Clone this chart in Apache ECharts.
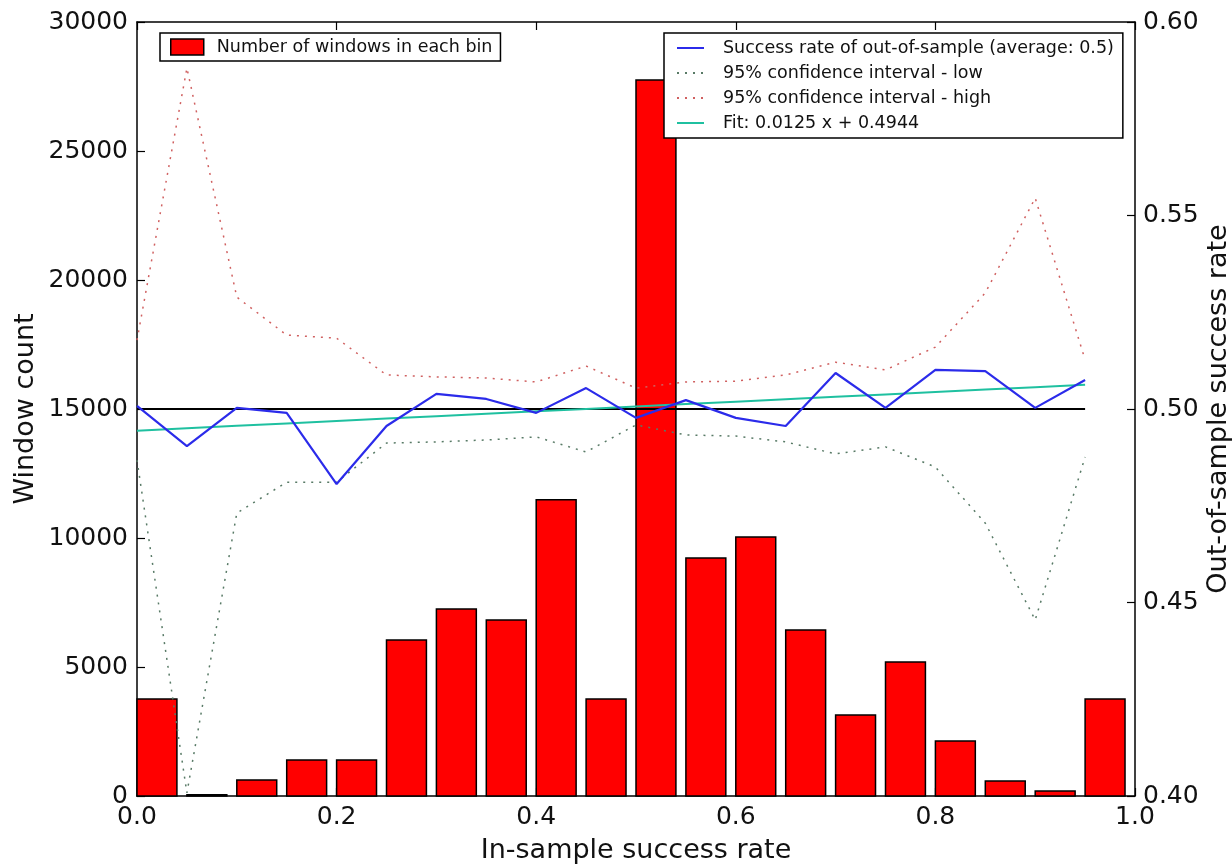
<!DOCTYPE html>
<html>
<head>
<meta charset="utf-8">
<script src="https://cdn.jsdelivr.net/npm/echarts@6/dist/echarts.min.js"></script>
<style>
  html, body { margin: 0; padding: 0; background: #ffffff; overflow: hidden; }
  #chart { width: 1232px; height: 864px; }
</style>
</head>
<body>
<div id="chart"></div>
<script>
// Bin start of each in-sample success-rate bin
const binStarts = [0.00, 0.05, 0.10, 0.15, 0.20, 0.25, 0.30, 0.35, 0.40, 0.45,
                   0.50, 0.55, 0.60, 0.65, 0.70, 0.75, 0.80, 0.85, 0.90, 0.95];
// Number of windows falling in each bin
const windowCounts = [3760, 50, 620, 1400, 1400, 6050, 7250, 6820, 11480, 3760,
                      27750, 9220, 10040, 6430, 3140, 5190, 2130, 580, 190, 3760];
// Out-of-sample success rate per bin
const outSampleRate = [0.5008, 0.4904, 0.5003, 0.4990, 0.4806, 0.4956, 0.5039, 0.5026, 0.4990, 0.5054,
                       0.4977, 0.5023, 0.4977, 0.4956, 0.5093, 0.5003, 0.5101, 0.5098, 0.5003, 0.5075];
// 95% confidence interval bounds
const ciLow = [0.4868, 0.4008, 0.4731, 0.4811, 0.4811, 0.4912, 0.4915, 0.4920, 0.4928, 0.4889,
               0.4959, 0.4933, 0.4930, 0.4915, 0.4884, 0.4902, 0.4850, 0.4705, 0.4455, 0.4876];
const ciHigh = [0.5178, 0.5881, 0.5289, 0.5191, 0.5183, 0.5088, 0.5083, 0.5080, 0.5070, 0.5111,
                0.5054, 0.5070, 0.5072, 0.5088, 0.5121, 0.5101, 0.5160, 0.5300, 0.5545, 0.5127];
// Overall average and linear fit
const averageRate = 0.5;
const fitSlope = 0.0125;
const fitIntercept = 0.4944;
// Axis tick values
const xTicks = [0.0, 0.2, 0.4, 0.6, 0.8, 1.0];
const countTicks = [0, 5000, 10000, 15000, 20000, 25000, 30000];
const rateTicks = [0.40, 0.45, 0.50, 0.55, 0.60];

const NAMES = {
  bars: 'Number of windows in each bin',
  rate: 'Success rate of out-of-sample (average: 0.5)',
  low: '95% confidence interval - low',
  high: '95% confidence interval - high',
  fit: 'Fit: 0.0125 x + 0.4944'
};

const BAR_WIDTH = 0.04;
const FONT = 'DejaVu Sans';
const TXT = '#111111';

const barData = binStarts.map((x, i) => [x, windowCounts[i]]);
const rateData = binStarts.map((x, i) => [x, outSampleRate[i]]);
const lowData = binStarts.map((x, i) => [x, ciLow[i]]);
const highData = binStarts.map((x, i) => [x, ciHigh[i]]);
const fitData = binStarts.map(x => [x, fitSlope * x + fitIntercept]);
const avgData = [[binStarts[0], averageRate], [binStarts[binStarts.length - 1], averageRate]];

const tickLen = 8;
const frameLine = { show: true, onZero: false, lineStyle: { color: '#000', width: 1.5 } };
const innerTick = { show: true, inside: true, length: tickLen, lineStyle: { color: '#000', width: 1.2 } };

const chart = echarts.init(document.getElementById('chart'), null, { renderer: 'canvas' });

chart.setOption({
  backgroundColor: '#ffffff',
  animation: false,
  textStyle: { fontFamily: FONT },
  grid: { left: 137, right: 97, top: 22, bottom: 68, containLabel: false, outerBoundsMode: 'none' },
  legend: [
    {
      data: [{
        name: NAMES.bars,
        icon: 'rect',
        itemStyle: { color: '#ff0000', borderColor: '#000', borderWidth: 1.5 }
      }],
      left: 160, top: 33,
      itemWidth: 33, itemHeight: 16,
      padding: [5, 8, 5, 10],
      backgroundColor: '#ffffff',
      borderColor: '#000', borderWidth: 1.5, borderRadius: 0,
      selectedMode: false,
      textStyle: { fontFamily: FONT, fontSize: 17.5, color: TXT, padding: [0, 0, 0, 8] }
    },
    {
      data: [NAMES.rate, NAMES.low, NAMES.high, NAMES.fit],
      orient: 'vertical',
      left: 664, top: 33,
      itemWidth: 27, itemHeight: 14, itemGap: 7,
      padding: [6, 9, 6, 12],
      backgroundColor: '#ffffff',
      borderColor: '#000', borderWidth: 1.5, borderRadius: 0,
      selectedMode: false,
      itemStyle: { opacity: 0 },
      textStyle: { fontFamily: FONT, fontSize: 17.5, color: TXT, padding: [0, 0, 0, 14] }
    }
  ],
  xAxis: [
    {
      type: 'value', min: 0, max: 1, interval: 0.2, position: 'bottom',
      name: 'In-sample success rate', nameLocation: 'middle', nameGap: 41,
      nameMoveOverlap: false,
      nameTextStyle: { fontFamily: FONT, fontSize: 27, color: TXT },
      axisLine: frameLine, axisTick: innerTick,
      axisLabel: {
        show: true, margin: 9, color: TXT, fontFamily: FONT, fontSize: 25,
        formatter: v => xTicks.some(t => Math.abs(t - v) < 1e-9) ? v.toFixed(1) : ''
      },
      splitLine: { show: false }
    },
    {
      type: 'value', min: 0, max: 1, interval: 0.2, position: 'top',
      axisLine: frameLine, axisTick: innerTick,
      axisLabel: { show: false }, splitLine: { show: false }
    }
  ],
  yAxis: [
    {
      type: 'value', min: 0, max: 30000, interval: 5000, position: 'left',
      name: 'Window count', nameLocation: 'middle', nameRotate: 90, nameGap: 98,
      nameMoveOverlap: false,
      nameTextStyle: { fontFamily: FONT, fontSize: 27, color: TXT },
      axisLine: frameLine, axisTick: innerTick,
      axisLabel: {
        margin: 9, color: TXT, fontFamily: FONT, fontSize: 25,
        formatter: v => countTicks.includes(v) ? String(v) : ''
      },
      splitLine: { show: false }
    },
    {
      type: 'value', min: 0.4, max: 0.6, interval: 0.05, position: 'right',
      name: 'Out-of-sample success rate', nameLocation: 'middle', nameRotate: 90, nameGap: 70,
      nameMoveOverlap: false,
      nameTextStyle: { fontFamily: FONT, fontSize: 27, color: TXT },
      axisLine: frameLine, axisTick: innerTick,
      axisLabel: {
        margin: 8, color: TXT, fontFamily: FONT, fontSize: 25,
        formatter: v => rateTicks.some(t => Math.abs(t - v) < 1e-9) ? v.toFixed(2) : ''
      },
      splitLine: { show: false }
    }
  ],
  series: [
    {
      name: NAMES.bars,
      type: 'custom',
      xAxisIndex: 0, yAxisIndex: 0,
      z: 1,
      itemStyle: { color: '#ff0000', borderColor: '#000', borderWidth: 1.5 },
      encode: { x: 0, y: 1 },
      data: barData,
      renderItem: function (params, api) {
        const x0 = api.value(0);
        const h = api.value(1);
        const topLeft = api.coord([x0, h]);
        const bottomRight = api.coord([x0 + BAR_WIDTH, 0]);
        return {
          type: 'rect',
          shape: {
            x: topLeft[0], y: topLeft[1],
            width: bottomRight[0] - topLeft[0],
            height: bottomRight[1] - topLeft[1]
          },
          style: { fill: '#ff0000', stroke: '#000', lineWidth: 1.5 }
        };
      }
    },
    {
      name: 'average', type: 'line', xAxisIndex: 0, yAxisIndex: 1, z: 3,
      data: avgData, symbol: 'none', silent: true,
      lineStyle: { color: '#000', width: 2 }
    },
    {
      name: NAMES.rate, type: 'line', xAxisIndex: 0, yAxisIndex: 1, z: 5,
      data: rateData, symbol: 'none',
      itemStyle: { color: '#2b2bea' },
      lineStyle: { color: '#2b2bea', width: 2.2 }
    },
    {
      name: NAMES.low, type: 'line', xAxisIndex: 0, yAxisIndex: 1, z: 4,
      data: lowData, symbol: 'none',
      itemStyle: { color: '#587a66' },
      lineStyle: { color: '#587a66', width: 1.5, type: [2, 6] }
    },
    {
      name: NAMES.high, type: 'line', xAxisIndex: 0, yAxisIndex: 1, z: 4,
      data: highData, symbol: 'none',
      itemStyle: { color: '#d06060' },
      lineStyle: { color: '#d06060', width: 1.5, type: [2, 6] }
    },
    {
      name: NAMES.fit, type: 'line', xAxisIndex: 0, yAxisIndex: 1, z: 4,
      data: fitData, symbol: 'none',
      itemStyle: { color: '#1fc0a0' },
      lineStyle: { color: '#1fc0a0', width: 2 }
    }
  ]
});
</script>
</body>
</html>
